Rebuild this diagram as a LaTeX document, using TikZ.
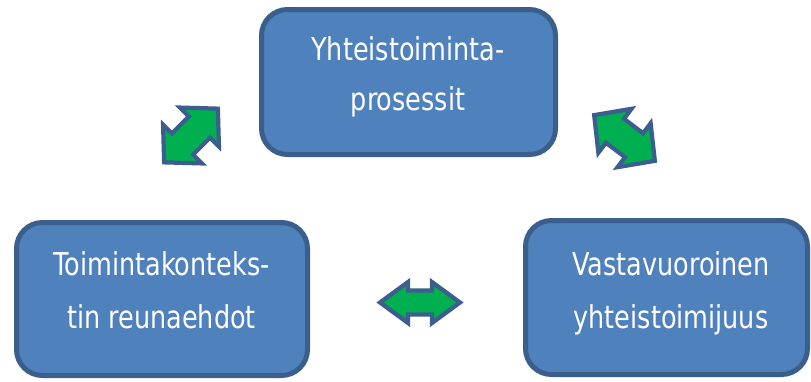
\documentclass[tikz,border=0pt]{standalone}
\usepackage{fontspec}
\setmainfont{DejaVu Sans}[FakeStretch=0.81]
\definecolor{boxfill}{HTML}{4F81BD}
\definecolor{boxline}{HTML}{3A5F8C}
\definecolor{arrfill}{HTML}{00B050}
\definecolor{arrline}{HTML}{3B5E8E}
\newcommand\dblarrowpath[4]{(-#1,0) -- (-#1+#2,#3) -- (-#1+#2,#4) -- (#1-#2,#4) -- (#1-#2,#3) -- (#1,0) -- (#1-#2,-#3) -- (#1-#2,-#4) -- (-#1+#2,-#4) -- (-#1+#2,-#3) -- cycle}
\tikzset{
  box/.style={draw=boxline, fill=boxfill, line width=5pt, rounded corners=26pt, rectangle, inner sep=0pt},
  txt/.style={text=white, font=\fontsize{31.5}{40}\selectfont, anchor=base, inner sep=0pt},
  dblarr/.style={draw=arrline, fill=arrfill, line width=4.2pt, line join=miter},
}
\begin{document}
\begin{tikzpicture}[x=1pt,y=-1pt]
\useasboundingbox (0,0) rectangle (811,381);
% boxes
\node[box, minimum width=294pt, minimum height=145pt] (top) at (408.5,82) {};
\node[box, minimum width=291pt, minimum height=153pt] (left) at (162,299) {};
\node[box, minimum width=282pt, minimum height=154pt] (right) at (666.5,297.5) {};
% texts
\node[txt] (top1) at (408,60) {Yhteistoiminta-};
\node[txt] (top2) at (408,110) {prosessit};
\node[txt] (left1) at (161.5,275) {Toimintakonteks-};
\node[txt] (left2) at (161.5,328) {tin reunaehdot};
\node[txt] (right1) at (671,275) {Vastavuoroinen};
\node[txt] (right2) at (671,328) {yhteistoimijuus};
% double arrows
\draw[dblarr, shift={(420,302.5)}] \dblarrowpath{40}{28}{20.5}{12};
\draw[dblarr, shift={(191,135.5)}, rotate=45] \dblarrowpath{38}{26}{27.5}{15};
\draw[dblarr, shift={(624.5,138)}, rotate=-37] \dblarrowpath{38}{26}{27.5}{15};
\end{tikzpicture}
\end{document}
